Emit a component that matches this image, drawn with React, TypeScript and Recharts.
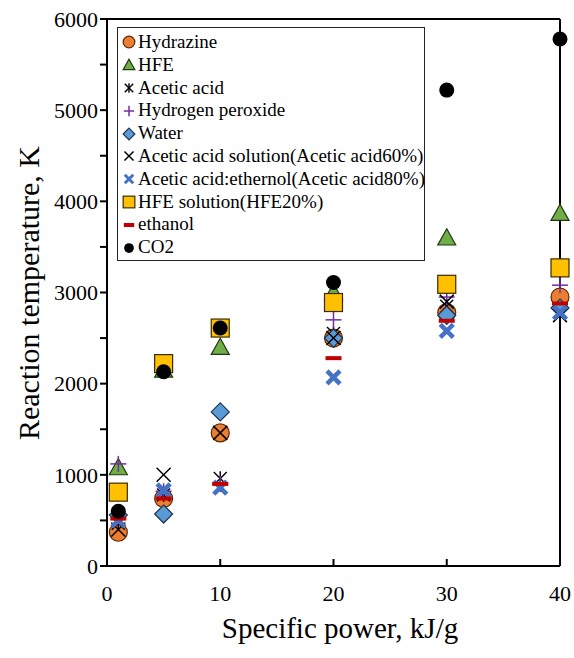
import { ScatterChart, Scatter, XAxis, YAxis, Legend, Customized } from "recharts";

// specific power, kJ/g
const powers = [1, 5, 10, 20, 30, 40];

// reaction temperature, K
const hydrazine = [370, 740, 1460, 2500, 2780, 2950];
const hfe = [1080, 2150, 2400, 3000, 3600, 3870];
const aceticAcid = [470, 780, 960, 2550, 2850, 2750];
const hydrogenPeroxide = [1120, 820, 900, 2700, 2950, 3080];
const water = [560, 570, 1690, 2500, 2750, 2830];
const aceticSolution = [400, 1000, 1460, 2500, 2900, 2750];
const aceticEthanol = [500, 830, 860, 2070, 2580, 2780];
const hfeSolution = [810, 2220, 2610, 2890, 3090, 3270];
const ethanol = [520, 740, 900, 2280, 2690, 2880];
const co2 = [600, 2130, 2610, 3110, 5220, 5780];

const xTicks = [0, 10, 20, 30, 40];
const yTicks = [0, 500, 1000, 1500, 2000, 2500, 3000, 3500, 4000, 4500, 5000, 5500, 6000];

const FONT = "Liberation Serif, serif";

type Kind =
  | "circle"
  | "triangle"
  | "star"
  | "plus"
  | "diamond"
  | "cross"
  | "boldCross"
  | "square"
  | "dash"
  | "dot";

function Marker({ kind, cx, cy, s = 1 }: { kind: Kind; cx: number; cy: number; s?: number }) {
  const r = 9 * s;
  switch (kind) {
    case "circle":
      return <circle cx={cx} cy={cy} r={r} fill="#ED7D31" stroke="#5a2a08" strokeWidth={1.2} />;
    case "triangle":
      return (
        <polygon
          points={`${cx},${cy - r} ${cx - r},${cy + r * 0.8} ${cx + r},${cy + r * 0.8}`}
          fill="#70AD47"
          stroke="#1f3a12"
          strokeWidth={1.2}
        />
      );
    case "star": {
      const a = 6.5 * s;
      return (
        <g stroke="#000" strokeWidth={1.4}>
          <line x1={cx - a} y1={cy - a} x2={cx + a} y2={cy + a} />
          <line x1={cx - a} y1={cy + a} x2={cx + a} y2={cy - a} />
          <line x1={cx} y1={cy - a * 1.1} x2={cx} y2={cy + a * 1.1} />
        </g>
      );
    }
    case "plus": {
      const a = 8 * s;
      return (
        <g stroke="#7030A0" strokeWidth={1.5}>
          <line x1={cx - a} y1={cy} x2={cx + a} y2={cy} />
          <line x1={cx} y1={cy - a} x2={cx} y2={cy + a} />
        </g>
      );
    }
    case "diamond":
      return (
        <polygon
          points={`${cx},${cy - r} ${cx + r},${cy} ${cx},${cy + r} ${cx - r},${cy}`}
          fill="#5B9BD5"
          stroke="#1d3550"
          strokeWidth={1.2}
        />
      );
    case "cross": {
      const a = 7 * s;
      return (
        <g stroke="#000" strokeWidth={1.5}>
          <line x1={cx - a} y1={cy - a} x2={cx + a} y2={cy + a} />
          <line x1={cx - a} y1={cy + a} x2={cx + a} y2={cy - a} />
        </g>
      );
    }
    case "boldCross": {
      const a = 6.5 * s;
      return (
        <g stroke="#4472C4" strokeWidth={4.5 * s}>
          <line x1={cx - a} y1={cy - a} x2={cx + a} y2={cy + a} />
          <line x1={cx - a} y1={cy + a} x2={cx + a} y2={cy - a} />
        </g>
      );
    }
    case "square":
      return (
        <rect x={cx - r} y={cy - r} width={2 * r} height={2 * r} fill="#FFC000" stroke="#3a2c00" strokeWidth={1.2} />
      );
    case "dash":
      return <rect x={cx - 8 * s} y={cy - 2} width={16 * s} height={4} fill="#C00000" />;
    case "dot":
      return <circle cx={cx} cy={cy} r={7.5 * s} fill="#000" />;
  }
  return null;
}

const series: { name: string; values: number[]; kind: Kind }[] = [
  { name: "Hydrazine", values: hydrazine, kind: "circle" },
  { name: "HFE", values: hfe, kind: "triangle" },
  { name: "Acetic acid", values: aceticAcid, kind: "star" },
  { name: "Hydrogen peroxide", values: hydrogenPeroxide, kind: "plus" },
  { name: "Water", values: water, kind: "diamond" },
  { name: "Acetic acid solution(Acetic acid60%)", values: aceticSolution, kind: "cross" },
  { name: "Acetic acid:ethernol(Acetic acid80%)", values: aceticEthanol, kind: "boldCross" },
  { name: "HFE solution(HFE20%)", values: hfeSolution, kind: "square" },
  { name: "ethanol", values: ethanol, kind: "dash" },
  { name: "CO2", values: co2, kind: "dot" },
];

function LegendBox() {
  return (
    <div
      style={{
        border: "1.5px solid #222",
        background: "#fff",
        width: 306,
        padding: "3px 0 1px 0",
        fontFamily: FONT,
        fontSize: 19,
        lineHeight: "22.8px",
        color: "#000",
      }}
    >
      {series.map((s) => (
        <div key={s.name} style={{ display: "flex", alignItems: "center", whiteSpace: "nowrap" }}>
          <svg width={18} height={16} style={{ flex: "none", marginLeft: 2 }}>
            <Marker kind={s.kind} cx={9} cy={8} s={0.65} />
          </svg>
          <span>{s.name}</span>
        </div>
      ))}
    </div>
  );
}

function Titles() {
  return (
    <g fontFamily={FONT} fill="#000">
      <text x={340} y={628} fontSize={29} textAnchor="middle" dominantBaseline="central">
        Specific power, kJ/g
      </text>
      <text
        x={28}
        y={293}
        fontSize={30}
        textAnchor="middle"
        dominantBaseline="central"
        transform="rotate(-90 28 293)"
      >
        Reaction temperature, K
      </text>
    </g>
  );
}

export default function App() {
  return (
    <div
      style={{
        position: "absolute",
        left: 0,
        top: 0,
        width: 574,
        height: 658,
        background: "#fff",
        fontFamily: FONT,
      }}
    >
      <ScatterChart
        width={574}
        height={658}
        margin={{ top: 18, right: 13, bottom: 32, left: 47 }}
        style={{ fontFamily: FONT }}
      >
        <XAxis
          xAxisId="b"
          type="number"
          dataKey="x"
          domain={[0, 40]}
          ticks={xTicks}
          height={60}
          tickSize={-7}
          tickMargin={26}
          axisLine={{ stroke: "#000", strokeWidth: 2 }}
          tickLine={{ stroke: "#000", strokeWidth: 2 }}
          tick={{ fontSize: 22, fontFamily: FONT, fill: "#000" }}
        />
        <XAxis
          xAxisId="t"
          orientation="top"
          type="number"
          dataKey="x"
          domain={[0, 40]}
          ticks={xTicks}
          height={1}
          tickSize={-7}
          tick={false}
          axisLine={{ stroke: "#000", strokeWidth: 2 }}
          tickLine={{ stroke: "#000", strokeWidth: 2 }}
        />
        <YAxis
          yAxisId="l"
          type="number"
          dataKey="y"
          domain={[0, 6000]}
          ticks={yTicks}
          width={60}
          tickSize={7}
          tickFormatter={(v: number) => (v % 1000 === 0 ? String(v) : "")}
          axisLine={{ stroke: "#000", strokeWidth: 2 }}
          tickLine={{ stroke: "#000", strokeWidth: 2 }}
          tick={{ fontSize: 22, fontFamily: FONT, fill: "#000" }}
        />
        <YAxis
          yAxisId="r"
          orientation="right"
          type="number"
          dataKey="y"
          domain={[0, 6000]}
          ticks={yTicks}
          width={1}
          tickSize={-7}
          tick={false}
          axisLine={{ stroke: "#000", strokeWidth: 2 }}
          tickLine={{ stroke: "#000", strokeWidth: 2 }}
        />
        {series.map((s) => (
          <Scatter
            key={s.name}
            name={s.name}
            xAxisId="b"
            yAxisId="l"
            data={powers.map((x, i) => ({ x, y: s.values[i] }))}
            isAnimationActive={false}
            shape={(p: any) => <Marker kind={s.kind} cx={p.cx} cy={p.cy} />}
          />
        ))}
        <Legend
          layout="vertical"
          align="center"
          verticalAlign="middle"
          wrapperStyle={{ left: 117, top: 27, width: "auto", height: "auto" }}
          content={() => <LegendBox />}
        />
        <Customized component={<Titles />} />
      </ScatterChart>
    </div>
  );
}
